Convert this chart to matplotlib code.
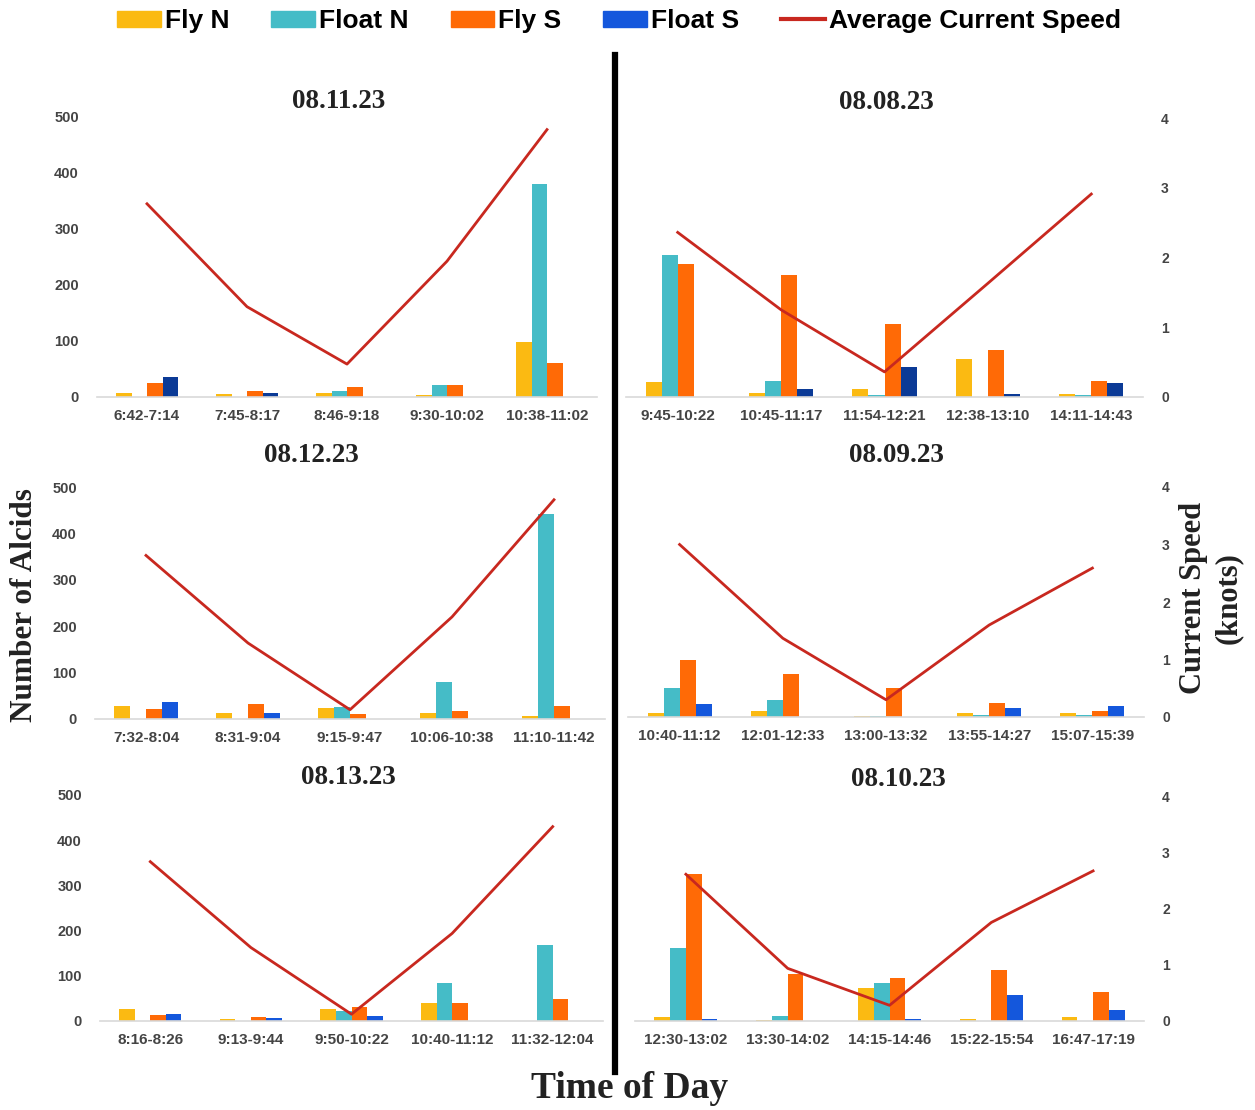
import matplotlib
matplotlib.use("Agg")
import matplotlib.pyplot as plt
import numpy as np
from matplotlib.lines import Line2D
from matplotlib.patches import Patch

# ---------------- data ----------------
dates = ["08.11.23", "08.08.23", "08.12.23", "08.09.23", "08.13.23", "08.10.23"]

times_0811 = ["6:42-7:14", "7:45-8:17", "8:46-9:18", "9:30-10:02", "10:38-11:02"]
fly_n_0811 = [8, 5, 8, 3, 98]
float_n_0811 = [0, 0, 11, 21, 380]
fly_s_0811 = [25, 10, 17, 21, 60]
float_s_0811 = [35, 7, 0, 0, 0]
speed_0811 = [2.76, 1.29, 0.47, 1.94, 3.82]

times_0808 = ["9:45-10:22", "10:45-11:17", "11:54-12:21", "12:38-13:10", "14:11-14:43"]
fly_n_0808 = [26, 8, 14, 68, 6]
float_n_0808 = [254, 29, 4, 0, 3]
fly_s_0808 = [239, 219, 130, 84, 28]
float_s_0808 = [0, 14, 54, 5, 25]
speed_0808 = [2.36, 1.25, 0.36, 1.63, 2.91]

times_0812 = ["7:32-8:04", "8:31-9:04", "9:15-9:47", "10:06-10:38", "11:10-11:42"]
fly_n_0812 = [29, 13, 24, 14, 6]
float_n_0812 = [0, 0, 26, 80, 442]
fly_s_0812 = [22, 33, 11, 17, 29]
float_s_0812 = [36, 13, 0, 0, 0]
speed_0812 = [2.82, 1.31, 0.16, 1.76, 3.78]

times_0809 = ["10:40-11:12", "12:01-12:33", "13:00-13:32", "13:55-14:27", "15:07-15:39"]
fly_n_0809 = [8, 12, 3, 9, 8]
float_n_0809 = [63, 36, 3, 4, 4]
fly_s_0809 = [125, 93, 63, 30, 13]
float_s_0809 = [29, 0, 0, 19, 23]
speed_0809 = [3.00, 1.37, 0.30, 1.60, 2.59]

times_0813 = ["8:16-8:26", "9:13-9:44", "9:50-10:22", "10:40-11:12", "11:32-12:04"]
fly_n_0813 = [26, 4, 27, 39, 0]
float_n_0813 = [0, 0, 22, 84, 169]
fly_s_0813 = [13, 9, 32, 39, 49]
float_s_0813 = [15, 6, 10, 0, 0]
speed_0813 = [2.82, 1.30, 0.12, 1.55, 3.44]

times_0810 = ["12:30-13:02", "13:30-14:02", "14:15-14:46", "15:22-15:54", "16:47-17:19"]
fly_n_0810 = [9, 2, 73, 4, 8]
float_n_0810 = [162, 12, 84, 0, 0]
fly_s_0810 = [328, 106, 95, 113, 65]
float_s_0810 = [5, 0, 4, 57, 24]
speed_0810 = [2.62, 0.94, 0.28, 1.76, 2.68]

count_ticks = [0, 100, 200, 300, 400, 500]
speed_ticks = [0, 1, 2, 3, 4]
series_names = ["Fly N", "Float N", "Fly S", "Float S"]

# ---------------- style ----------------
C_FLYN = "#FBBA12"
C_FLOATN = "#45BCC7"
C_FLYS = "#FF6A06"
C_FLOATS = "#1457DC"
C_FLOATS_DARK = "#0B3A96"
C_LINE = "#C8281F"
C_TICK = "#444444"
SANS = ["Liberation Sans", "DejaVu Sans"]
SERIF = ["Liberation Serif", "DejaVu Serif"]

W, H = 1255, 1110
fig = plt.figure(figsize=(W / 100, H / 100), dpi=100)
fig.patch.set_facecolor("white")


def px_rect(x0, x1, ytop, ybot):
    return [x0 / W, 1 - ybot / H, (x1 - x0) / W, (ybot - ytop) / H]


panels = [
    (times_0811, fly_n_0811, float_n_0811, fly_s_0811, float_s_0811, speed_0811,
     px_rect(97, 597, 117, 397), "left", C_FLOATS_DARK, (339, 102)),
    (times_0808, fly_n_0808, float_n_0808, fly_s_0808, float_s_0808, speed_0808,
     px_rect(626, 1143, 118, 397), "right", C_FLOATS_DARK, (886, 103)),
    (times_0812, fly_n_0812, float_n_0812, fly_s_0812, float_s_0812, speed_0812,
     px_rect(95, 605, 487, 719), "left", C_FLOATS, (311, 455)),
    (times_0809, fly_n_0809, float_n_0809, fly_s_0809, float_s_0809, speed_0809,
     px_rect(628, 1144, 487, 717), "right", C_FLOATS, (896, 455)),
    (times_0813, fly_n_0813, float_n_0813, fly_s_0813, float_s_0813, speed_0813,
     px_rect(100, 603, 795, 1021), "left", C_FLOATS, (348, 777)),
    (times_0810, fly_n_0810, float_n_0810, fly_s_0810, float_s_0810, speed_0810,
     px_rect(635, 1144, 797, 1021), "right", C_FLOATS, (898, 779)),
]

bw = 0.155
for date, (times, fn, fln, fs, fls, spd, rect, side, fcol, tpos) in zip(dates, panels):
    ax = fig.add_axes(rect)
    x = np.arange(len(times))
    cols = [C_FLYN, C_FLOATN, C_FLYS, fcol]
    for k, (vals, c) in enumerate(zip([fn, fln, fs, fls], cols)):
        ax.bar(x + (k - 1.5) * bw, vals, width=bw, color=c, zorder=2)
    ax.set_xlim(-0.5, len(times) - 0.5)
    ax.set_ylim(0, 500)
    ax.set_xticks(x)
    ax.set_xticklabels(times, fontsize=11, fontweight="bold", color=C_TICK, family=SANS)
    ax.set_yticks(count_ticks)
    for s in ["top", "left", "right"]:
        ax.spines[s].set_visible(False)
    ax.spines["bottom"].set_color("#d9d9d9")
    ax.spines["bottom"].set_linewidth(1.2)
    ax.tick_params(axis="both", length=0)
    ax.tick_params(axis="x", pad=9)
    ax.tick_params(axis="y", pad=13)
    if side == "left":
        ax.set_yticklabels([str(t) for t in count_ticks], fontsize=10.5, fontweight="bold",
                           color=C_TICK, family=SANS)
    else:
        ax.set_yticklabels([])
    ax.patch.set_alpha(0)

    ax2 = ax.twinx()
    ax2.plot(x, spd, color=C_LINE, lw=2.0, zorder=3)
    ax2.set_ylim(0, 4)
    ax2.set_yticks(speed_ticks)
    for s in ["top", "left", "right", "bottom"]:
        ax2.spines[s].set_visible(False)
    ax2.tick_params(axis="y", length=0, pad=13)
    if side == "right":
        ax2.set_yticklabels([str(t) for t in speed_ticks], fontsize=10, fontweight="bold",
                            color=C_TICK, family=SANS)
    else:
        ax2.set_yticklabels([])

    fig.text(tpos[0] / W, 1 - tpos[1] / H, date, ha="center", va="center",
             fontsize=19.5, fontweight="bold", family=SERIF, color="#222222")

# divider
fig.add_artist(Line2D([615 / W, 615 / W], [1 - 55 / H, 1 - 1072 / H],
                      color="black", lw=4.5, transform=fig.transFigure))

# axis titles
fig.text(25 / W, 1 - 605 / H, "Number of Alcids", rotation=90, ha="center", va="center",
         fontsize=22.5, fontweight="bold", family=SERIF, color="#222222")
fig.text(1211 / W, 1 - 598 / H, "Current Speed\n(knots)", rotation=90, ha="center",
         va="center", fontsize=22, fontweight="bold", family=SERIF, color="#222222",
         linespacing=1.3)
fig.text(630 / W, 1 - 1089 / H, "Time of Day", ha="center", va="center",
         fontsize=27, fontweight="bold", family=SERIF, color="#222222")

# legend
handles = [Patch(color=C_FLYN), Patch(color=C_FLOATN), Patch(color=C_FLYS),
           Patch(color=C_FLOATS), Line2D([], [], color=C_LINE, lw=3)]
labels = series_names + ["Average Current Speed"]
fig.legend(handles, labels, loc="center", bbox_to_anchor=(619 / W, 1 - 21 / H), ncol=5,
           frameon=False, handlelength=1.65, handleheight=0.55, handletextpad=0.15,
           columnspacing=1.6, prop={"family": SANS, "weight": "bold", "size": 19})

fig.savefig("out.png", dpi=100, facecolor="white")
